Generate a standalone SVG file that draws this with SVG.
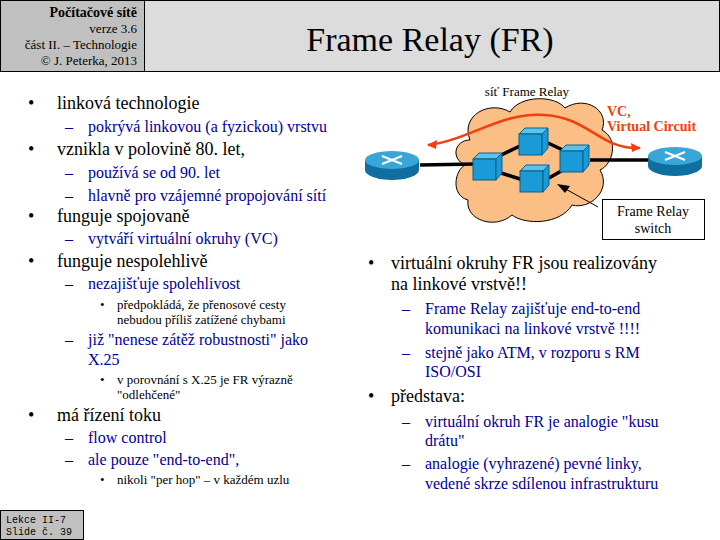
<svg xmlns="http://www.w3.org/2000/svg" width="720" height="540" viewBox="0 0 720 540">
<style>
.sw{fill:#1a9ad6;stroke:#0b5f8a;stroke-width:1}
.swt{fill:#5cc3ee;stroke:#0b5f8a;stroke-width:1}
.ln{stroke:#000;stroke-width:3.5}
</style>
<rect width="720" height="540" fill="#fff"/>
<g id="header">
<rect x="0.5" y="0.5" width="144" height="71" fill="#c0c0c0" stroke="#000"/>
<rect x="144.5" y="0.5" width="575" height="71" fill="#dcdcdc" stroke="#000"/>
<text font-family="Liberation Serif" x="137" y="17" text-anchor="end" font-size="14" font-weight="bold">Počítačové sítě</text>
<text font-family="Liberation Serif" x="137" y="33" text-anchor="end" font-size="13">verze 3.6</text>
<text font-family="Liberation Serif" x="137" y="49" text-anchor="end" font-size="13">část  II. –  Technologie</text>
<text font-family="Liberation Serif" x="137" y="65" text-anchor="end" font-size="13">© J. Peterka, 2013</text>
<text font-family="Liberation Serif" x="430" y="51" text-anchor="middle" font-size="34">Frame Relay (FR)</text>
</g>
<g id="left">
<text font-family="Liberation Serif" font-size="18" x="28" y="109">•</text><text font-family="Liberation Serif" font-size="18" x="57" y="109">linková technologie</text>
<text font-family="Liberation Serif" font-size="18" x="28" y="155">•</text><text font-family="Liberation Serif" font-size="18" x="57" y="155">vznikla v polovině 80. let,</text>
<text font-family="Liberation Serif" font-size="18" x="28" y="222">•</text><text font-family="Liberation Serif" font-size="18" x="57" y="222">funguje  spojovaně</text>
<text font-family="Liberation Serif" font-size="18" x="28" y="267">•</text><text font-family="Liberation Serif" font-size="18" x="57" y="267">funguje  nespolehlivě</text>
<text font-family="Liberation Serif" font-size="18" x="28" y="421">•</text><text font-family="Liberation Serif" font-size="18" x="57" y="421">má řízení toku</text>
<text font-family="Liberation Serif" font-size="16" fill="#000099" x="65" y="132">–</text><text font-family="Liberation Serif" font-size="16" fill="#000099" x="88" y="132">pokrývá linkovou (a fyzickou) vrstvu</text>
<text font-family="Liberation Serif" font-size="16" fill="#000099" x="65" y="178">–</text><text font-family="Liberation Serif" font-size="16" fill="#000099" x="88" y="178">používá se od 90. let</text>
<text font-family="Liberation Serif" font-size="16" fill="#000099" x="65" y="201">–</text><text font-family="Liberation Serif" font-size="16" fill="#000099" x="88" y="201">hlavně pro vzájemné propojování sítí</text>
<text font-family="Liberation Serif" font-size="16" fill="#000099" x="65" y="244">–</text><text font-family="Liberation Serif" font-size="16" fill="#000099" x="88" y="244">vytváří virtuální okruhy (VC)</text>
<text font-family="Liberation Serif" font-size="16" fill="#000099" x="65" y="289">–</text><text font-family="Liberation Serif" font-size="16" fill="#000099" x="88" y="289">nezajišťuje spolehlivost</text>
<text font-family="Liberation Serif" font-size="16" fill="#000099" x="65" y="345">–</text><text font-family="Liberation Serif" font-size="16" fill="#000099" x="88" y="345">již "nenese zátěž robustnosti" jako</text>
<text font-family="Liberation Serif" font-size="16" fill="#000099" x="88" y="365">X.25</text>
<text font-family="Liberation Serif" font-size="16" fill="#000099" x="65" y="443">–</text><text font-family="Liberation Serif" font-size="16" fill="#000099" x="88" y="443">flow control</text>
<text font-family="Liberation Serif" font-size="16" fill="#000099" x="65" y="465">–</text><text font-family="Liberation Serif" font-size="16" fill="#000099" x="88" y="465">ale pouze "end-to-end",</text>
<text font-family="Liberation Serif" font-size="13" x="100" y="309">•</text><text font-family="Liberation Serif" font-size="13" x="117" y="309">předpokládá, že přenosové cesty</text>
<text font-family="Liberation Serif" font-size="13" x="117" y="324">nebudou příliš zatížené chybami</text>
<text font-family="Liberation Serif" font-size="13" x="100" y="384">•</text><text font-family="Liberation Serif" font-size="13" x="117" y="384">v porovnání  s X.25 je FR výrazně</text>
<text font-family="Liberation Serif" font-size="13" x="117" y="399">"odlehčené"</text>
<text font-family="Liberation Serif" font-size="13" x="100" y="484">•</text><text font-family="Liberation Serif" font-size="13" x="117" y="484">nikoli  "per hop" – v každém uzlu</text>
</g>
<g id="right">
<text font-family="Liberation Serif" font-size="18" x="368" y="269">•</text><text font-family="Liberation Serif" font-size="18" x="391" y="269">virtuální okruhy FR jsou realizovány</text>
<text font-family="Liberation Serif" font-size="18" x="391" y="290">na linkové vrstvě!!</text>
<text font-family="Liberation Serif" font-size="18" x="368" y="402">•</text><text font-family="Liberation Serif" font-size="18" x="391" y="402">představa:</text>
<text font-family="Liberation Serif" font-size="16" fill="#000099" x="402" y="314">–</text><text font-family="Liberation Serif" font-size="16" fill="#000099" x="425" y="314">Frame Relay zajišťuje end-to-end</text>
<text font-family="Liberation Serif" font-size="16" fill="#000099" x="425" y="334">komunikaci na linkové vrstvě !!!!</text>
<text font-family="Liberation Serif" font-size="16" fill="#000099" x="402" y="358">–</text><text font-family="Liberation Serif" font-size="16" fill="#000099" x="425" y="358">stejně jako ATM, v rozporu s RM</text>
<text font-family="Liberation Serif" font-size="16" fill="#000099" x="425" y="377">ISO/OSI</text>
<text font-family="Liberation Serif" font-size="16" fill="#000099" x="402" y="427">–</text><text font-family="Liberation Serif" font-size="16" fill="#000099" x="425" y="427">virtuální  okruh FR je analogie  "kusu</text>
<text font-family="Liberation Serif" font-size="16" fill="#000099" x="425" y="446">drátu"</text>
<text font-family="Liberation Serif" font-size="16" fill="#000099" x="402" y="469">–</text><text font-family="Liberation Serif" font-size="16" fill="#000099" x="425" y="469">analogie  (vyhrazené) pevné linky,</text>
<text font-family="Liberation Serif" font-size="16" fill="#000099" x="425" y="489">vedené skrze sdílenou infrastrukturu</text>
</g>
<g id="cloud">
<path d="M470,140 C460,115 490,100 510,112 C520,95 555,95 565,108 C585,95 610,110 602,130 C620,140 612,165 600,170 C612,190 590,210 572,205 C560,225 525,225 512,215 C495,230 465,220 468,200 C450,195 455,170 465,165 C450,158 455,140 470,140 Z" fill="#fbbf85" stroke="#000" stroke-width="1"/>
<text font-family="Liberation Serif" x="527" y="96" text-anchor="middle" font-size="13">síť  Frame  Relay</text>
</g>
<g id="connectors">
<line class="ln" x1="420" y1="165" x2="475" y2="164"/>
<line class="ln" x1="495" y1="158" x2="522" y2="145"/>
<line class="ln" x1="495" y1="171" x2="523" y2="180"/>
<line class="ln" x1="548" y1="143" x2="565" y2="151"/>
<line class="ln" x1="549" y1="178" x2="563" y2="170"/>
<line class="ln" x1="590" y1="160" x2="648" y2="160"/>
<path d="M428,145 C470,140 500,112 545,115 C590,118 600,150 640,148" fill="none" stroke="#f04010" stroke-width="2.5"/>
<polygon points="427,145 437,140 436,149" fill="#f04010"/>
<polygon points="641,148 631,143 632,152" fill="#f04010"/>
<line x1="598" y1="207" x2="562" y2="187" stroke="#000" stroke-width="1"/>
<polygon points="557,184 570,186 565,193" fill="#000"/>
</g>
<g id="switches">
<g transform="translate(473,153)"><polygon class="swt" points="0,6 6,0 29,0 23,6"/><rect class="sw" x="0" y="6" width="23" height="21"/><polygon class="sw" points="23,6 29,0 29,20 23,27"/></g>
<g transform="translate(519,128)"><polygon class="swt" points="0,6 6,0 29,0 23,6"/><rect class="sw" x="0" y="6" width="23" height="21"/><polygon class="sw" points="23,6 29,0 29,20 23,27"/></g>
<g transform="translate(520,165)"><polygon class="swt" points="0,6 6,0 29,0 23,6"/><rect class="sw" x="0" y="6" width="23" height="21"/><polygon class="sw" points="23,6 29,0 29,20 23,27"/></g>
<g transform="translate(560,145)"><polygon class="swt" points="0,6 6,0 29,0 23,6"/><rect class="sw" x="0" y="6" width="23" height="21"/><polygon class="sw" points="23,6 29,0 29,20 23,27"/></g>
</g>
<g id="router-left">
<path d="M365,160 v10 a27,10 0 0 0 54,0 v-10 z" fill="#0e6fa0"/>
<ellipse cx="392" cy="160" rx="27" ry="9" fill="#3aa6d8"/>
<path d="M382,156 l20,8 M402,156 l-20,8" stroke="#fff" stroke-width="2"/>
</g>
<g id="router-right">
<path d="M648,156 v10 a27,10 0 0 0 54,0 v-10 z" fill="#0e6fa0"/>
<ellipse cx="675" cy="156" rx="27" ry="9" fill="#3aa6d8"/>
<path d="M665,152 l20,8 M685,152 l-20,8" stroke="#fff" stroke-width="2"/>
</g>
<g id="vc-label">
<text font-family="Liberation Serif" x="607" y="116" font-size="14" font-weight="bold" fill="#f04010">VC,</text>
<text font-family="Liberation Serif" x="607" y="131" font-size="14" font-weight="bold" fill="#f04010">Virtual Circuit</text>
</g>
<g id="switch-label">
<rect x="602.5" y="199.5" width="102" height="40" fill="#fff" stroke="#000"/>
<text font-family="Liberation Serif" x="653" y="216" text-anchor="middle" font-size="14">Frame Relay</text>
<text font-family="Liberation Serif" x="653" y="233" text-anchor="middle" font-size="14">switch</text>
</g>
<g id="footer">
<rect x="0.5" y="510.5" width="83" height="29" fill="#c0c0c0" stroke="#000"/>
<text font-family="Liberation Mono" x="6" y="523" font-size="10">Lekce II-7</text>
<text font-family="Liberation Mono" x="6" y="535" font-size="10">Slide č. 39</text>
</g>
</svg>
